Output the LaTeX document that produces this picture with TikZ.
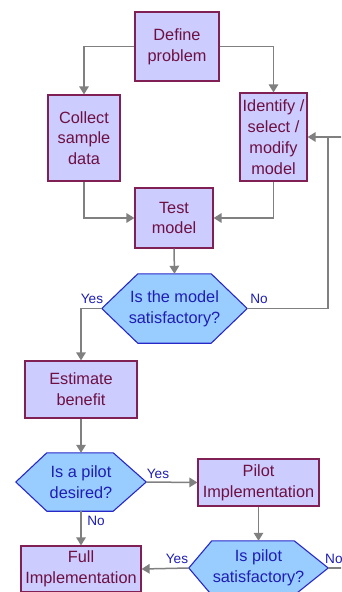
\documentclass[tikz,border=0pt]{standalone}
\usepackage{fontspec}
\setmainfont{Liberation Sans}
\usetikzlibrary{arrows.meta,backgrounds}
\definecolor{boxfill}{RGB}{204,204,255}
\definecolor{boxline}{RGB}{128,32,84}
\definecolor{boxtext}{RGB}{110,16,66}
\definecolor{hexfill}{RGB}{153,204,255}
\definecolor{hexline}{RGB}{40,40,200}
\definecolor{hextext}{RGB}{30,30,180}
\definecolor{arrgray}{RGB}{128,128,128}
\tikzset{
  procbox/.style={draw=boxline, fill=boxfill, line width=1.2pt, text=boxtext,
    align=center, inner sep=0pt, font=\fontsize{16.3}{20.8}\selectfont},
  hexnode/.style={inner sep=0pt, text=hextext, align=center,
    font=\fontsize{16.3}{20.8}\selectfont},
  hexshape/.style={draw=hexline, fill=hexfill, line width=1.1pt, line join=miter},
  conn/.style={draw=arrgray, line width=1.5pt},
  arr/.style={conn, -{Triangle[length=8pt,width=9.5pt]}},
  lbl/.style={text=hextext, font=\fontsize{13.6}{15}\selectfont, inner sep=0pt}
}
\newcommand\hexof[3]{%
  \begin{scope}[on background layer]
    \path[hexshape] (#1.west) -- ([xshift=#2]#1.north west) -- ([xshift=-#3]#1.north east)
      -- (#1.east) -- ([xshift=-#3]#1.south east) -- ([xshift=#2]#1.south west) -- cycle;
  \end{scope}}
\begin{document}
\begin{tikzpicture}[x=1pt,y=-1pt]
\begin{scope}[on background layer]
\fill[white] (0,0) rectangle (341,592);
\end{scope}
\clip (0,0) rectangle (341,592);
% process boxes
\node[procbox, minimum width=84pt, minimum height=69pt] (def) at (177,46.5) {Define\\problem};
\node[procbox, minimum width=72pt, minimum height=86pt] (col) at (84,138) {Collect\\sample\\data};
\node[procbox, minimum width=67pt, minimum height=88pt] (idn) at (273.5,137) {Identify /\\select /\\modify\\model};
\node[procbox, minimum width=78pt, minimum height=60pt] (tst) at (174,218) {Test\\model};
\node[procbox, minimum width=112pt, minimum height=57pt] (est) at (81,389.5) {Estimate\\benefit};
\node[procbox, minimum width=121pt, minimum height=47pt] (pil) at (258.5,482.5) {Pilot\\Implementation};
\node[procbox, minimum width=120pt, minimum height=46pt] (ful) at (81,569) {Full\\Implementation};
% decision hexagons
\node[hexnode, minimum width=145pt, minimum height=69pt] (hx1) at (174.5,308.5) {Is the model\\satisfactory?};
\hexof{hx1}{36pt}{36pt}
\node[hexnode, minimum width=130pt, minimum height=58pt] (hx2) at (81,482) {Is a pilot\\desired?};
\hexof{hx2}{31pt}{33pt}
\node[hexnode, minimum width=139pt, minimum height=54pt] (hx3) at (258.5,568) {Is pilot\\satisfactory?};
\hexof{hx3}{23pt}{34pt}
% helper coordinates
\coordinate (loop) at (328,137);
\coordinate (edgeA) at (345,137);
\coordinate (edgeB) at (345,568);
% connectors
\draw[arr] (def.west) -| (col.north);
\draw[arr] (def.east) -| (idn.north);
\draw[arr] (col.south) |- (tst.west);
\draw[arr] (idn.south) |- (tst.east);
\draw[arr] (tst.south) -- (hx1.north);
\draw[arr] (hx1.west) -| (est.north);
\draw[arr] (hx1.east) -| (loop) -- (idn.east);
\draw[conn] (edgeA) -- (loop);
\draw[arr] (est.south) -- (hx2.north);
\draw[arr] (hx2.east) -- (pil.west);
\draw[arr] (hx2.south) -- (ful.north);
\draw[arr] (pil.south) -- (hx3.north);
\draw[arr] (hx3.west) -- (ful.east);
\draw[conn] (hx3.east) -- (edgeB);
% labels
\node[lbl] (l1) at (92,299) {Yes};
\node[lbl] (l2) at (259,299) {No};
\node[lbl] (l3) at (158,474) {Yes};
\node[lbl] (l4) at (96,521) {No};
\node[lbl] (l5) at (177,559) {Yes};
\node[lbl, anchor=west] (l6) at (325,559) {No};
\end{tikzpicture}
\end{document}
